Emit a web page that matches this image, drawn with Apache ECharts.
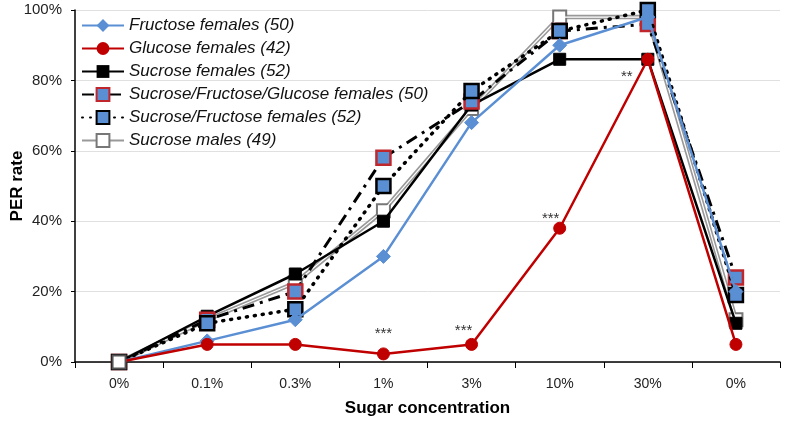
<!DOCTYPE html>
<html><head><meta charset="utf-8">
<script src="https://cdn.jsdelivr.net/npm/echarts@6/dist/echarts.min.js"></script>
<style>html,body{margin:0;padding:0;background:#fff}#c{width:787px;height:422px}</style>
</head><body><div id="c"></div>
<script>
const categories = ['0%','0.1%','0.3%','1%','3%','10%','30%','0%'];
const fructoseF = [0, 6, 12, 30, 68, 90, 98, 20];
const glucoseF = [0, 5, 5, 2.3, 5, 38, 86, 5];
const sucroseF = [0, 13, 25, 40, 73, 86, 86, 11];
const sfgF = [0, 12, 20, 58, 74, 94, 96, 24];
const sfF = [0, 11, 15, 50, 77, 94, 100, 19];
const sucroseM = [0, 12, 22.5, 43, 72, 98, 98, 12];
const names = ['Fructose females (50)','Glucose females (42)','Sucrose females (52)','Sucrose/Fructose/Glucose females (50)','Sucrose/Fructose females (52)','Sucrose males (49)'];
const yTicks = [0, 20, 40, 60, 80, 100];
// significance marks: [category index, value where the text sits, text]
const annotations = [[3, 8.8, '***'], [4, 9.7, '***'], [5, 41.5, '***'], [6, 82, '**']];
const annotationShiftX = [0, -8, -9, -21];

const chart = echarts.init(document.getElementById('c'));
const font = 'Liberation Sans, Arial, sans-serif';
chart.setOption({
  animation: false,
  textStyle: {fontFamily: font},
  grid: {left: 75, right: 7, top: 10, bottom: 60, containLabel: false, outerBoundsMode: 'none'},
  legend: {
    orient: 'vertical', left: 76, top: 12, itemGap: 6, itemWidth: 42, itemHeight: 16,
    data: names,
    textStyle: {fontStyle: 'italic', fontSize: 17, color: '#111', fontFamily: font}
  },
  xAxis: {
    type: 'category', data: categories, boundaryGap: true,
    name: 'Sugar concentration', nameLocation: 'middle', nameGap: 38, nameMoveOverlap: false,
    nameTextStyle: {fontWeight: 'bold', fontSize: 17, color: '#000'},
    axisLine: {lineStyle: {color: '#000', width: 1.5}},
    axisTick: {show: true, length: 6, lineStyle: {color: '#000'}},
    axisLabel: {fontSize: 14, color: '#222', margin: 15}
  },
  yAxis: {
    type: 'value', min: 0, max: 100, interval: 20,
    name: 'PER rate', nameLocation: 'middle', nameGap: 49, nameRotate: 90, nameMoveOverlap: false,
    nameTextStyle: {fontWeight: 'bold', fontSize: 17, color: '#000'},
    axisLine: {show: true, lineStyle: {color: '#000', width: 1.5}},
    axisTick: {show: true, length: 4, lineStyle: {color: '#000'}},
    axisLabel: {fontSize: 15, color: '#222', margin: 13, formatter: v => yTicks.includes(v) ? v + '%' : ''},
    splitLine: {lineStyle: {color: '#e0e0e0'}}
  },
  series: [
    {name: names[5], type: 'line', data: sucroseM, z: 2, symbol: 'rect', symbolSize: 13,
      lineStyle: {color: '#999', width: 4.5}, itemStyle: {color: '#fff', borderColor: '#777', borderWidth: 2}},
    {name: 'males-inner', type: 'line', data: sucroseM, z: 3, symbol: 'none', silent: true,
      lineStyle: {color: '#fff', width: 1.2}},
    {name: names[2], type: 'line', data: sucroseF, z: 4, symbol: 'rect', symbolSize: 12,
      lineStyle: {color: '#000', width: 2.5}, itemStyle: {color: '#000', borderColor: '#000'}},
    {name: names[3], type: 'line', data: sfgF, z: 5, symbol: 'rect', symbolSize: 14,
      lineStyle: {color: '#000', width: 3, type: [12, 6, 3, 6]},
      itemStyle: {color: '#5b8fd4', borderColor: '#c0272d', borderWidth: 2.5}},
    {name: names[4], type: 'line', data: sfF, z: 6, symbol: 'rect', symbolSize: 14,
      lineStyle: {color: '#000', width: 3.5, type: [1, 7], cap: 'round'},
      itemStyle: {color: '#5b8fd4', borderColor: '#000', borderWidth: 2.5}},
    {name: names[0], type: 'line', data: fructoseF, z: 7, symbol: 'diamond', symbolSize: 14,
      lineStyle: {color: '#5b8fd4', width: 2.5}, itemStyle: {color: '#5b8fd4', borderColor: '#5b8fd4'}},
    {name: names[1], type: 'line', data: glucoseF, z: 8, symbol: 'circle', symbolSize: 12,
      lineStyle: {color: '#c00000', width: 2.5}, itemStyle: {color: '#c00000', borderColor: '#c00000'},
      markPoint: {
        symbol: 'circle', symbolSize: 0,
        label: {show: true, formatter: p => p.name, color: '#333', fontSize: 15, position: 'inside'},
        data: annotations.map((a, i) => ({name: a[2], coord: [a[0], a[1]], symbolOffset: [annotationShiftX[i], 3]}))
      }},
    {name: 'start-overlay', type: 'line', data: [0], z: 9, symbol: 'rect', symbolSize: 13, silent: true,
      lineStyle: {width: 0}, itemStyle: {color: '#fff', borderColor: '#555', borderWidth: 2}}
  ]
});
</script></body></html>
